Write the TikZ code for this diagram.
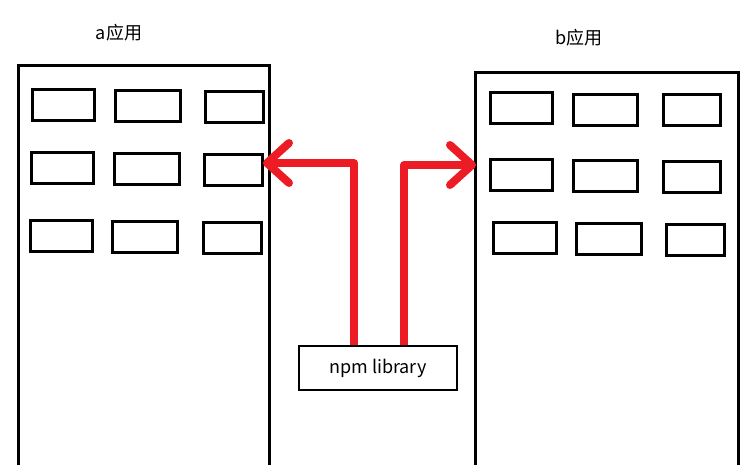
\documentclass[tikz,border=0pt]{standalone}
\usepackage{fontspec}
\newfontfamily\cjk{Noto Sans CJK SC}
\usetikzlibrary{arrows.meta}
\definecolor{paintred}{RGB}{237,28,36}
\begin{document}
\begin{tikzpicture}[x=0.5pt, y=-0.5pt,
% common options for the app frames:
app/.style = {draw, line width=1.4pt, anchor=north west, inner sep=0,
            minimum height=230pt},
% common options for the small boxes:
cell/.style = {draw, line width=1.5pt, anchor=north west, inner sep=0,
            minimum height=15.5pt},
% the red connectors:
pipe/.style = {draw=paintred, line width=4pt, line join=round,
            -{Straight Barb[length=11pt,width=20pt,round]}},
label/.style = {font=\cjk\fontsize{9}{11}\selectfont, inner sep=0}]
\useasboundingbox[fill=white] (0,0) rectangle (752,465);
\node[label] (titleA) at (119,33) {a应用};
\node[label] (titleB) at (579,38) {b应用};
\node[app,minimum width=125.5pt] (appA) at (17,64) {};
\node[app,minimum width=131.5pt] (appB) at (474,71) {};
% boxes of a
\node[cell,minimum width=31pt] (a11) at (31,88) {};
\node[cell,minimum width=32.5pt] (a12) at (114,89) {};
\node[cell,minimum width=29pt] (a13) at (204,90) {};
\node[cell,minimum width=31pt] (a21) at (30,151) {};
\node[cell,minimum width=32.5pt] (a22) at (113,152) {};
\node[cell,minimum width=29pt] (a23) at (203,153) {};
\node[cell,minimum width=31pt] (a31) at (29,219) {};
\node[cell,minimum width=32.5pt] (a32) at (111,220) {};
\node[cell,minimum width=29pt] (a33) at (202,221) {};
% boxes of b
\node[cell,minimum width=31pt] (b11) at (489,91) {};
\node[cell,minimum width=32pt] (b12) at (572,93) {};
\node[cell,minimum width=28.5pt] (b13) at (662,93) {};
\node[cell,minimum width=31pt] (b21) at (489,158) {};
\node[cell,minimum width=32pt] (b22) at (572,159) {};
\node[cell,minimum width=28.5pt] (b23) at (662,160) {};
\node[cell,minimum width=31.5pt] (b31) at (492,221) {};
\node[cell,minimum width=32.5pt] (b32) at (575,222) {};
\node[cell,minimum width=29pt] (b33) at (665,223) {};
% the library
\node[draw, line width=1.3pt, minimum width=79pt, minimum height=22pt,
      inner sep=0, font=\cjk\fontsize{9}{11}\selectfont] (npm) at (378,368) {npm library};
\coordinate (inA) at (263,163);
\coordinate (inB) at (476,165);
\draw[pipe] ([xshift=-12pt]npm.north) |- (inA);
\draw[pipe] ([xshift=13pt]npm.north) |- (inB);
\end{tikzpicture}
\end{document}
